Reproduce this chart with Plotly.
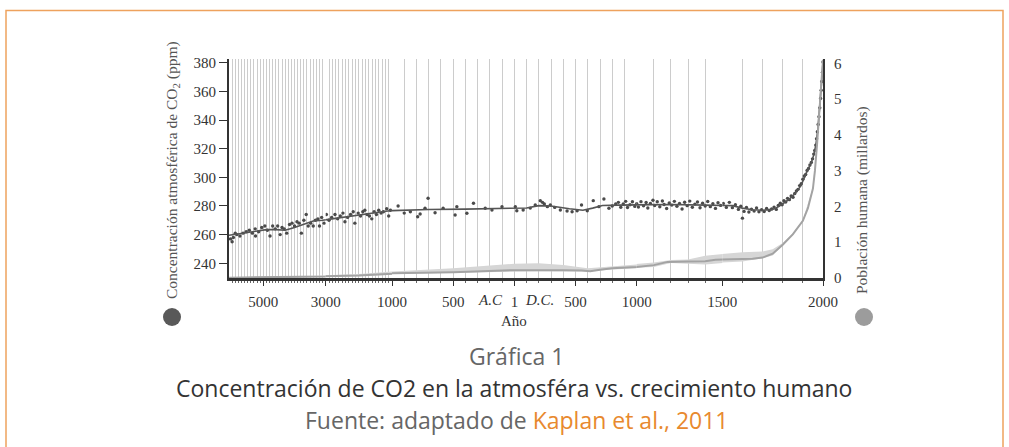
import plotly.graph_objects as go

# ---------------- data ----------------
# Ice-core CO2 samples: (year, ppm); negative years = B.C.
CO2_SAMPLES_EARLY = [
    (-6050, 257), (-6000, 255), (-5960, 258), (-5900, 261), (-5850, 260), (-5750, 259),
    (-5650, 261), (-5550, 262), (-5450, 263), (-5350, 261), (-5260, 264), (-5250, 259),
    (-5150, 262), (-5050, 265), (-4950, 266), (-4870, 263), (-4785, 259), (-4700, 266),
    (-4620, 264), (-4540, 266), (-4460, 260), (-4400, 265), (-4330, 264), (-4250, 261),
    (-4160, 267), (-4080, 268), (-4000, 266), (-3920, 269), (-3850, 268), (-3780, 261),
    (-3700, 270), (-3625, 274), (-3560, 266), (-3480, 268), (-3400, 266), (-3330, 270),
    (-3250, 271), (-3200, 266), (-3130, 272), (-3050, 268), (-2980, 274), (-2900, 270),
    (-2820, 272), (-2720, 274), (-2640, 271), (-2560, 273), (-2480, 275), (-2420, 269),
    (-2340, 272), (-2250, 274), (-2170, 276), (-2120, 268), (-2020, 275), (-1950, 273),
    (-1880, 276), (-1820, 277), (-1750, 274), (-1680, 273), (-1610, 271), (-1540, 276),
    (-1470, 274), (-1400, 277), (-1330, 275), (-1260, 276), (-1160, 278), (-1100, 273),
    (-1050, 277),
]
CO2_SAMPLES_MID = [
    (-950, 280), (-900, 275), (-850, 276), (-790, 272.5), (-770, 274.4), (-730, 278.4),
    (-705, 285.4), (-648, 275.3), (-582, 278.4), (-484, 273.7), (-470, 279.5), (-388, 274.9),
    (-334, 281.9), (-238, 278.4), (-183, 277.2), (-101, 279.5), (8, 279.5), (20, 276.6),
    (72, 277.2), (130, 278.5), (171, 280.7), (212, 283.7), (230, 282.5), (245, 281.4),
    (270, 279.5), (294, 280.7), (330, 279.0), (376, 277.2), (431, 276.5), (472, 276.0),
    (513, 276.6), (549, 280.7), (596, 276.6), (645, 283.7), (691, 279.5), (732, 284.9),
    (773, 278.4), (800, 280.0), (828, 281.4), (850, 282.5), (870, 279.1), (890, 281.4),
    (910, 283.2), (925, 278.9), (945, 280.8), (965, 282.9), (985, 279.7),
]
CO2_SAMPLES_LATE = [
    (1000, 281.5), (1010, 279.2), (1025, 283.0), (1040, 280.1), (1055, 282.4), (1065, 278.6),
    (1080, 281.8), (1095, 284.0), (1105, 280.3), (1120, 282.9), (1135, 279.4), (1150, 283.5),
    (1160, 281.0), (1175, 278.2), (1190, 282.1), (1205, 280.6), (1220, 283.2), (1235, 279.8),
    (1250, 281.7), (1265, 277.9), (1280, 282.6), (1295, 280.2), (1310, 283.4), (1325, 279.1),
    (1340, 281.3), (1355, 282.8), (1370, 278.7), (1385, 281.9), (1400, 280.0), (1415, 283.1),
    (1430, 279.5), (1445, 281.6), (1460, 278.3), (1475, 282.2), (1490, 280.4), (1505, 281.8),
    (1520, 279.0), (1535, 282.5), (1550, 278.8), (1565, 280.9), (1580, 277.6), (1592, 279.8),
    (1600, 271.5), (1608, 276.2), (1620, 278.9), (1632, 275.8), (1645, 277.7), (1658, 276.4),
    (1670, 278.6), (1682, 275.9), (1695, 277.3), (1708, 276.1), (1720, 278.2), (1733, 276.8),
    (1745, 277.9), (1757, 279.2), (1768, 277.6), (1778, 280.4), (1788, 281.9), (1797, 280.8),
    (1806, 283.6), (1815, 282.7), (1824, 285.3), (1833, 284.4), (1842, 286.9), (1851, 286.1),
    (1860, 288.7), (1868, 290.5), (1876, 291.6), (1884, 294.2), (1892, 295.5), (1900, 298.6),
    (1907, 300.9), (1914, 302.0), (1921, 304.8), (1928, 306.1), (1935, 308.6), (1942, 310.4),
    (1948, 312.9), (1954, 316.2), (1959, 318.8), (1964, 322.5), (1968, 327.0), (1972, 331.8),
    (1976, 336.9), (1980, 342.3), (1984, 348.5), (1988, 355.1), (1991, 360.8), (1994, 366.9),
    (1997, 373.2), (2000, 380.5),
]
# Smoothed CO2 curve: (year, ppm)
CO2_TREND = [
    (-6100, 259.5), (-5800, 260.5), (-5500, 261.5), (-5200, 262.5), (-4900, 263.5),
    (-4600, 263.5), (-4300, 263.0), (-4000, 265.0), (-3700, 267.5), (-3400, 269.5),
    (-3100, 270.0), (-2800, 271.0), (-2500, 272.5), (-2200, 273.5), (-1900, 274.5),
    (-1600, 275.0), (-1300, 276.0), (-1000, 276.8), (-700, 277.5), (-400, 277.8),
    (-100, 278.2), (100, 278.6), (200, 280.2), (300, 280.0), (450, 278.0), (560, 277.0),
    (640, 278.5), (720, 280.3), (850, 280.6), (1000, 280.8), (1200, 281.0), (1400, 280.6),
    (1550, 280.2), (1600, 278.5), (1650, 277.4), (1700, 277.0), (1750, 277.6), (1780, 279.5),
    (1800, 281.5), (1830, 284.5), (1860, 288.5), (1890, 294.0), (1920, 304.0), (1940, 309.5),
    (1955, 316.0), (1965, 323.0), (1975, 334.0), (1985, 350.0), (1992, 364.0), (1997, 374.0),
    (2000, 381.0),
]
# Human population (billions): (year, value)
POP_TREND = [
    (-6100, 0.01), (-5000, 0.015), (-4000, 0.025), (-3000, 0.04), (-2000, 0.07),
    (-1000, 0.12), (-500, 0.16), (1, 0.22), (200, 0.23), (400, 0.22), (550, 0.21),
    (620, 0.19), (700, 0.23), (800, 0.27), (1000, 0.31), (1100, 0.36), (1180, 0.45),
    (1300, 0.46), (1400, 0.47), (1460, 0.51), (1550, 0.52), (1650, 0.54), (1700, 0.57),
    (1750, 0.68), (1800, 0.93), (1850, 1.22), (1900, 1.6), (1925, 1.95), (1950, 2.5),
    (1960, 3.0), (1970, 3.7), (1980, 4.4), (1990, 5.3), (2000, 6.1),
]
# Population uncertainty range: (year, low, high)
POP_RANGE = [
    (-6100, 0.0, 0.02), (-4000, 0.015, 0.04), (-3000, 0.025, 0.07), (-2000, 0.05, 0.11),
    (-1000, 0.09, 0.18), (-500, 0.13, 0.27), (1, 0.18, 0.40), (200, 0.19, 0.41),
    (400, 0.19, 0.36), (600, 0.18, 0.27), (800, 0.24, 0.32), (1000, 0.27, 0.38),
    (1100, 0.31, 0.43), (1200, 0.42, 0.50), (1300, 0.40, 0.52), (1400, 0.38, 0.62),
    (1500, 0.43, 0.68), (1600, 0.46, 0.72), (1700, 0.55, 0.74), (1750, 0.63, 0.80),
    (1800, 0.90, 0.98), (1850, 1.20, 1.25), (1900, 1.58, 1.63), (1950, 2.48, 2.53),
    (2000, 6.05, 6.15),
]

X_TICK_YEARS = [-5000, -3000, -1000, -500, 1, 500, 1000, 1500, 2000]
X_TICK_LABELS = ["5000", "3000", "1000", "500", "1", "500", "1000", "1500", "2000"]
CO2_TICKS = [240, 260, 280, 300, 320, 340, 360, 380]
POP_TICKS = [0, 1, 2, 3, 4, 5, 6]

# ---------------- layout geometry ----------------
W, H = 1009, 447
PLOT_L, PLOT_R, PLOT_T, PLOT_B = 229, 823, 59, 278
# the time axis is drawn with a different scale in each era
SEGMENT_BREAKS = [-6100, -3000, -1000, 1000, 1500, 2000]
SEGMENT_EDGES_PX = [229, 325.7, 392, 636.7, 722.3, 823]

SERIF = "Liberation Serif"
SANS = "Open Sans"
TICK_FONT = dict(family=SERIF, size=15, color="#333")


def fx(px):
    return (px - PLOT_L) / (PLOT_R - PLOT_L)


def fy(py):
    return (PLOT_B - py) / (PLOT_B - PLOT_T)


def pick(rows, lo, hi, pad):
    rows = sorted(rows)
    idx = [i for i, r in enumerate(rows) if lo <= r[0] <= hi]
    if pad and idx:
        a, b = idx[0], idx[-1]
        if a > 0:
            idx.insert(0, a - 1)
        if b < len(rows) - 1:
            idx.append(b + 1)
    return [rows[i] for i in idx]


fig = go.Figure()
layout_axes = {}
co2_samples = CO2_SAMPLES_EARLY + CO2_SAMPLES_MID + CO2_SAMPLES_LATE

for i in range(len(SEGMENT_BREAKS) - 1):
    lo, hi = SEGMENT_BREAKS[i], SEGMENT_BREAKS[i + 1]
    xref = "x" if i == 0 else f"x{i + 1}"
    last = i == len(SEGMENT_BREAKS) - 2
    tv = [y for y in X_TICK_YEARS if lo <= y < hi or (last and y == hi)]
    tt = [X_TICK_LABELS[X_TICK_YEARS.index(y)] for y in tv]
    centuries = [c for c in range(-6000, 2001, 100) if lo <= c <= hi]
    layout_axes["xaxis" if i == 0 else f"xaxis{i + 1}"] = dict(
        domain=[fx(SEGMENT_EDGES_PX[i]), fx(SEGMENT_EDGES_PX[i + 1])],
        range=[lo, hi], anchor="y",
        tickmode="array", tickvals=tv, ticktext=tt,
        ticks="outside", ticklen=5, tickwidth=1, tickcolor="#333",
        ticklabelstandoff=3,
        showgrid=True, gridcolor="#cccccc", gridwidth=1,
        zeroline=False, showline=True, linecolor="#333", linewidth=2.5,
        tickfont=TICK_FONT,
        minor=dict(tickmode="array", tickvals=centuries, ticks="outside", ticklen=2,
                   tickcolor="#666", showgrid=True, gridcolor="#cccccc", gridwidth=1),
    )

    # population range band
    band = pick(POP_RANGE, lo, hi, True)
    bx = [r[0] for r in band] + [r[0] for r in band][::-1]
    by = [r[2] for r in band] + [r[1] for r in band][::-1]
    fig.add_trace(go.Scatter(x=bx, y=by, xaxis=xref, yaxis="y2", mode="lines",
                             fill="toself", fillcolor="#d6d6d6", line=dict(width=0),
                             hoverinfo="skip"))
    pop = pick(POP_TREND, lo, hi, True)
    fig.add_trace(go.Scatter(x=[r[0] for r in pop], y=[r[1] for r in pop],
                             xaxis=xref, yaxis="y2", mode="lines",
                             line=dict(color="#a3a3a3", width=2)))
    pts = pick(co2_samples, lo, hi, False)
    fig.add_trace(go.Scatter(x=[r[0] for r in pts], y=[r[1] for r in pts],
                             xaxis=xref, yaxis="y", mode="markers",
                             marker=dict(color="#4a4a4a", size=3.4)))
    trend = pick(CO2_TREND, lo, hi, True)
    fig.add_trace(go.Scatter(x=[r[0] for r in trend], y=[r[1] for r in trend],
                             xaxis=xref, yaxis="y", mode="lines",
                             line=dict(color="#555555", width=1.6)))

n_seg = len(SEGMENT_BREAKS) - 1
fig.update_layout(
    width=W, height=H,
    margin=dict(l=PLOT_L, r=W - PLOT_R, t=PLOT_T, b=H - PLOT_B, pad=0),
    paper_bgcolor="white", plot_bgcolor="white", showlegend=False,
    yaxis=dict(range=[229.7, 382.6], anchor="x", tickmode="array", tickvals=CO2_TICKS,
               ticks="outside", ticklen=8, tickcolor="#333", showgrid=False,
               zeroline=False, showline=True, linecolor="#333", linewidth=2,
               tickfont=TICK_FONT),
    yaxis2=dict(range=[0, 6.12], overlaying="y", side="right", anchor=f"x{n_seg}",
                tickmode="array", tickvals=POP_TICKS, ticks="outside", ticklen=6,
                tickcolor="rgba(0,0,0,0)", showgrid=False, zeroline=False,
                showline=True, linecolor="#333", linewidth=2,
                tickfont=TICK_FONT),
    **layout_axes,
)

ann = [
    dict(text="Concentración atmosférica de CO<sub>2</sub> (ppm)", x=fx(172), y=fy(170),
         textangle=-90, font=dict(family=SERIF, size=15.5, color="#555")),
    dict(text="Población humana (millardos)", x=fx(862), y=fy(200),
         textangle=-90, font=dict(family=SERIF, size=15.5, color="#555")),
    dict(text="Año", x=fx(514), y=fy(321), font=dict(family=SERIF, size=15, color="#333")),
    dict(text="<i>A.C</i>", x=fx(490), y=fy(300), font=dict(family=SERIF, size=15, color="#333")),
    dict(text="<i>D.C.</i>", x=fx(539), y=fy(300), font=dict(family=SERIF, size=15, color="#333")),
    dict(text="Gráfica 1", x=fx(516), y=fy(356), font=dict(family=SANS, size=23, color="#666")),
    dict(text="Concentración de CO2 en la atmosféra vs. crecimiento humano", x=fx(514),
         y=fy(388), font=dict(family=SANS, size=23, color="#333")),
    dict(text="Fuente: adaptado de <span style='color:#e8892e'>Kaplan et al., 2011</span>",
         x=fx(517), y=fy(420), font=dict(family=SANS, size=23, color="#666")),
]
for a in ann:
    fig.add_annotation(xref="paper", yref="paper", showarrow=False,
                       xanchor="center", yanchor="middle", **a)

# outer orange frame
fig.add_shape(type="rect", xref="paper", yref="paper", x0=fx(6), x1=fx(1003),
              y0=fy(520), y1=fy(10.5), line=dict(color="#eea25e", width=1.5),
              fillcolor="rgba(0,0,0,0)", layer="below")
# series markers next to axis titles
for cx, col in [(172, "#595959"), (864, "#9c9c9c")]:
    fig.add_shape(type="circle", xref="paper", yref="paper", xsizemode="pixel",
                  ysizemode="pixel", xanchor=fx(cx), yanchor=fy(317),
                  x0=-9, x1=9, y0=-9, y1=9, fillcolor=col, line=dict(width=0))

# let the figure fill the browser window (no default page margin), no toolbar
fig.write_html("out.html", config={"displayModeBar": False},
               post_script="document.body.style.margin='0';document.body.style.overflow='hidden';")
